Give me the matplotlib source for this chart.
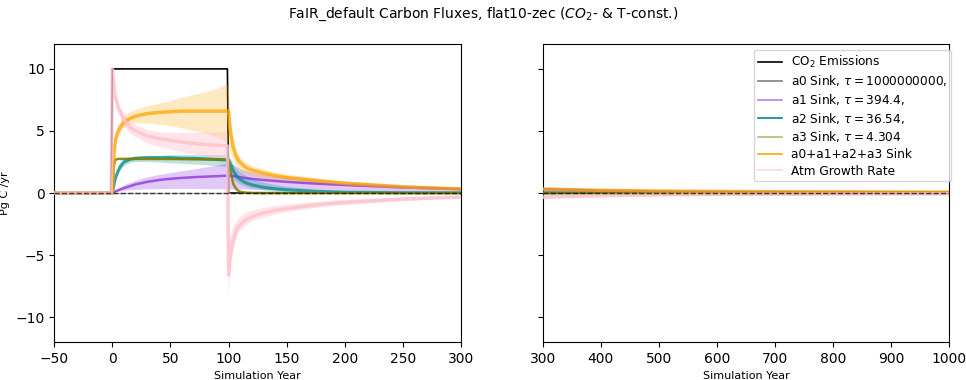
import numpy as np
import matplotlib
matplotlib.use("Agg")
import matplotlib.pyplot as plt
from matplotlib.lines import Line2D

# ---------------- data ----------------
YEARS = [-50, -1, 0, 1, 2, 3, 5, 7, 10, 15, 20, 30, 40, 50, 60, 70, 80, 90, 99,
         100, 101, 102, 104, 106, 108, 110, 115, 120, 130, 140,
         150, 175, 200, 250, 300, 400, 500, 600, 700, 800, 900, 1000]

EMISSIONS = [0, 0, 10, 10, 10, 10, 10, 10, 10, 10, 10, 10, 10, 10, 10, 10, 10, 10, 10,
             0, 0, 0, 0, 0, 0, 0, 0, 0, 0, 0,
             0, 0, 0, 0, 0, 0, 0, 0, 0, 0, 0, 0]

A0_MID = [0] * 42

A1_MID = [0, 0, 0, 0.05, 0.1, 0.15, 0.22, 0.3, 0.4, 0.55, 0.7, 0.9, 1.05, 1.15, 1.22, 1.28, 1.32, 1.36, 1.4,
          1.4, 1.39, 1.38, 1.36, 1.33, 1.3, 1.27, 1.2, 1.14, 1.05, 0.97,
          0.9, 0.76, 0.65, 0.45, 0.32, 0.2, 0.14, 0.11, 0.09, 0.08, 0.07, 0.06]
A1_LO = [0, 0, 0, 0.02, 0.05, 0.07, 0.1, 0.13, 0.17, 0.22, 0.26, 0.3, 0.32, 0.33, 0.33, 0.33, 0.32, 0.31, 0.3,
         0.3, 0.3, 0.3, 0.3, 0.3, 0.29, 0.29, 0.28, 0.27, 0.26, 0.25,
         0.24, 0.21, 0.19, 0.15, 0.12, 0.08, 0.06, 0.05, 0.04, 0.03, 0.03, 0.02]
A1_HI = [0, 0, 0, 0.08, 0.15, 0.22, 0.33, 0.45, 0.6, 0.8, 0.98, 1.25, 1.45, 1.6, 1.75, 1.9, 2.05, 2.2, 2.4,
         2.4, 2.37, 2.33, 2.25, 2.15, 2.05, 1.95, 1.8, 1.68, 1.52, 1.4,
         1.3, 1.1, 0.9, 0.6, 0.42, 0.3, 0.22, 0.17, 0.14, 0.12, 0.11, 0.1]

A2_MID = [0, 0, 0, 0.5, 0.95, 1.3, 1.8, 2.15, 2.5, 2.7, 2.8, 2.85, 2.85, 2.85, 2.8, 2.8, 2.75, 2.7, 2.65,
          2.65, 2.45, 2.25, 1.8, 1.5, 1.25, 1.08, 0.82, 0.66, 0.46, 0.34,
          0.26, 0.13, 0.07, 0.03, 0.02, 0.01, 0.005, 0, 0, 0, 0, 0]
A2_LO = [0, 0, 0, 0.4, 0.75, 1.05, 1.45, 1.8, 2.15, 2.4, 2.5, 2.5, 2.45, 2.4, 2.35, 2.3, 2.25, 2.15, 2.1,
         2.1, 1.8, 1.6, 1.2, 0.95, 0.8, 0.7, 0.5, 0.35, 0.2, 0.12,
         0.08, 0.03, 0.01, 0, 0, 0, 0, 0, 0, 0, 0, 0]
A2_HI = [0, 0, 0, 0.6, 1.15, 1.55, 2.1, 2.45, 2.75, 2.9, 2.95, 3.0, 3.0, 3.05, 3.05, 3.05, 3.05, 3.05, 3.05,
         3.05, 2.9, 2.75, 2.4, 2.1, 1.85, 1.7, 1.4, 1.15, 0.85, 0.65,
         0.5, 0.28, 0.17, 0.08, 0.04, 0.02, 0.01, 0, 0, 0, 0, 0]

A3_MID = [0, 0, 0, 2.0, 2.6, 2.7, 2.75, 2.75, 2.75, 2.75, 2.75, 2.75, 2.75, 2.75, 2.74, 2.73, 2.72, 2.7, 2.68,
          2.68, 2.1, 1.6, 0.75, 0.4, 0.2, 0.1, 0.03, 0.01, 0, 0,
          0, 0, 0, 0, 0, 0, 0, 0, 0, 0, 0, 0]
A3_LO = [0, 0, 0, 1.9, 2.5, 2.62, 2.67, 2.67, 2.67, 2.67, 2.67, 2.66, 2.65, 2.64, 2.63, 2.61, 2.6, 2.58, 2.55,
         2.55, 1.9, 1.4, 0.6, 0.3, 0.15, 0.07, 0.02, 0, 0, 0,
         0, 0, 0, 0, 0, 0, 0, 0, 0, 0, 0, 0]
A3_HI = [0, 0, 0, 2.1, 2.7, 2.8, 2.83, 2.83, 2.83, 2.83, 2.83, 2.83, 2.83, 2.83, 2.83, 2.83, 2.83, 2.82, 2.8,
         2.8, 2.3, 1.8, 0.9, 0.5, 0.28, 0.15, 0.05, 0.02, 0, 0,
         0, 0, 0, 0, 0, 0, 0, 0, 0, 0, 0, 0]

SUM_MID = [0, 0, 0, 2.5, 3.8, 4.4, 5.0, 5.3, 5.7, 6.0, 6.2, 6.4, 6.5, 6.55, 6.6, 6.6, 6.6, 6.6, 6.6,
           6.6, 5.4, 4.7, 3.7, 3.1, 2.7, 2.45, 2.05, 1.85, 1.6, 1.4,
           1.25, 1.0, 0.78, 0.5, 0.33, 0.22, 0.16, 0.13, 0.1, 0.09, 0.08, 0.07]
SUM_LO = [0, 0, 0, 2.0, 3.3, 3.9, 4.5, 4.8, 5.2, 5.5, 5.6, 5.6, 5.5, 5.4, 5.2, 5.0, 4.8, 4.5, 4.1,
          4.1, 3.6, 3.2, 2.7, 2.3, 2.0, 1.8, 1.5, 1.35, 1.15, 1.0,
          0.9, 0.7, 0.55, 0.35, 0.22, 0.14, 0.1, 0.08, 0.06, 0.05, 0.04, 0.04]
SUM_HI = [0, 0, 0, 3.0, 4.3, 4.9, 5.5, 5.8, 6.2, 6.5, 6.7, 7.0, 7.2, 7.4, 7.7, 7.9, 8.1, 8.4, 8.7,
          8.7, 6.9, 5.8, 4.5, 3.7, 3.2, 2.9, 2.45, 2.2, 1.9, 1.65,
          1.5, 1.2, 0.95, 0.62, 0.42, 0.28, 0.21, 0.17, 0.14, 0.12, 0.1, 0.09]

ATM_MID = [0, 0, 10, 9.0, 8.1, 7.6, 6.9, 6.5, 5.9, 5.3, 5.0, 4.6, 4.4, 4.25, 4.1, 4.0, 3.9, 3.85, 3.8,
           -6.6, -5.4, -4.7, -3.8, -3.2, -2.8, -2.55, -2.15, -1.9, -1.6, -1.4,
           -1.25, -0.95, -0.75, -0.48, -0.32, -0.2, -0.15, -0.12, -0.1, -0.08, -0.07, -0.06]
ATM_LO = [0, 0, 10, 8.8, 7.8, 7.2, 6.5, 6.0, 5.4, 4.8, 4.5, 4.0, 3.7, 3.5, 3.3, 3.1, 2.95, 2.8, 2.7,
          -8.6, -7.0, -6.0, -4.7, -3.9, -3.4, -3.1, -2.6, -2.3, -2.0, -1.75,
          -1.55, -1.2, -0.98, -0.66, -0.45, -0.3, -0.22, -0.18, -0.15, -0.12, -0.1, -0.09]
ATM_HI = [0, 0, 10, 9.3, 8.5, 7.9, 7.3, 6.9, 6.4, 5.8, 5.5, 5.1, 4.9, 4.85, 4.85, 4.85, 4.9, 4.9, 4.9,
          -4.2, -3.7, -3.3, -2.8, -2.4, -2.1, -1.9, -1.6, -1.4, -1.2, -1.05,
          -0.93, -0.7, -0.55, -0.35, -0.22, -0.13, -0.09, -0.07, -0.05, -0.04, -0.03, -0.03]

LABELS = ["CO$_2$ Emissions",
          r"a0 Sink, $\tau=$1000000000,",
          r"a1 Sink, $\tau=$394.4,",
          r"a2 Sink, $\tau=$36.54,",
          r"a3 Sink, $\tau=$4.304",
          "a0+a1+a2+a3 Sink",
          "Atm Growth Rate"]

# ---------------- figure ----------------
fig = plt.figure(figsize=(9.66, 3.8), dpi=100)
ax1 = fig.add_axes([0.0562, 0.100, 0.4210, 0.784])
ax2 = fig.add_axes([0.5618, 0.100, 0.4210, 0.784], sharey=ax1)

x = np.array(YEARS, dtype=float)
# colour, core, low, high, core width, core alpha, fan alpha
series = [
    ("gray", A0_MID, None, None, 1.0, 0.6, 0.0),
    ("blueviolet", A1_MID, A1_LO, A1_HI, 1.8, 0.75, 0.25),
    ("darkcyan", A2_MID, A2_LO, A2_HI, 2.2, 0.75, 0.25),
    ("olive", A3_MID, A3_LO, A3_HI, 1.8, 0.85, 0.3),
    ("orange", SUM_MID, SUM_LO, SUM_HI, 2.5, 0.75, 0.24),
    ("pink", ATM_MID, ATM_LO, ATM_HI, 2.5, 0.8, 0.4),
]

for ax in (ax1, ax2):
    ax.plot(x, EMISSIONS, color="black", lw=1.2, zorder=2)
    for col, mid, lo, hi, lw, a_line, a_fill in series:
        if lo is not None:
            ax.fill_between(x, lo, hi, color=col, alpha=a_fill, lw=0, zorder=3)
        ax.plot(x, mid, color=col, lw=lw, alpha=a_line, zorder=4,
                solid_joinstyle="round")
    ax.axhline(0, color="black", ls="--", lw=1.0, alpha=0.7, zorder=5)
    ax.set_xlabel("Simulation Year", fontsize=8)
    ax.tick_params(labelsize=10)

ax1.set_xlim(-50, 300)
ax2.set_xlim(300, 1000)
ax1.set_ylim(-12, 12)
ax1.set_yticks([-10, -5, 0, 5, 10])
ax1.set_xticks([-50, 0, 50, 100, 150, 200, 250, 300])
ax2.set_xticks([300, 400, 500, 600, 700, 800, 900, 1000])
plt.setp(ax2.get_yticklabels(), visible=False)
ax1.set_ylabel("Pg C /yr", fontsize=8)

handle_cols = [("black", 1.0), ("gray", 1.0), ("blueviolet", 0.6), ("darkcyan", 1.0),
               ("olive", 0.55), ("orange", 1.0), ("pink", 0.7)]
handles = [Line2D([], [], color=c, alpha=a, lw=1.2) for c, a in handle_cols]
ax2.legend(handles, LABELS, loc="upper right", fontsize=8.7, labelspacing=0.3,
           borderpad=0.3, bbox_to_anchor=(1.02, 1.0))

fig.suptitle("FaIR_default Carbon Fluxes, flat10-zec ($CO_2$- & T-const.)", fontsize=10, y=0.985)

fig.savefig("out.png", dpi=100)
